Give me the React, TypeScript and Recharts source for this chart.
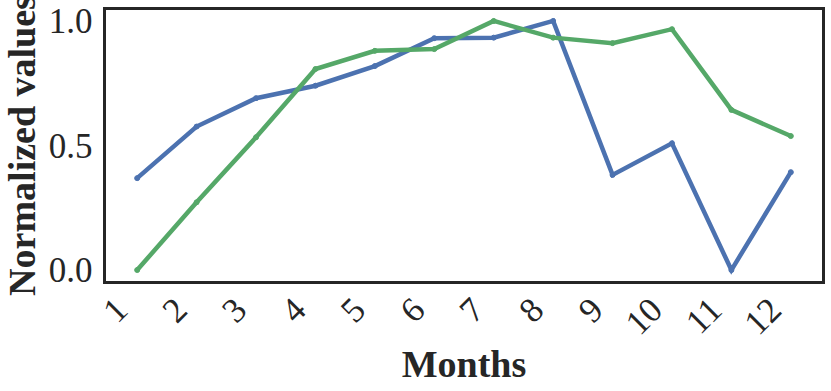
import React from "react";
import { LineChart, Line, XAxis, YAxis, ReferenceArea } from "recharts";

const months = [1, 2, 3, 4, 5, 6, 7, 8, 9, 10, 11, 12];
const seriesA = [0.369, 0.576, 0.69, 0.74, 0.819, 0.931, 0.933, 1.0, 0.382, 0.509, 0.0, 0.393];
const seriesB = [0.0, 0.272, 0.533, 0.807, 0.88, 0.887, 1.0, 0.933, 0.911, 0.967, 0.643, 0.538];
const yTicks = [0, 0.5, 1];
const yTickLabels = ["0.0", "0.5", "1.0"];

const data = months.map((m, i) => ({ month: m, a: seriesA[i], b: seriesB[i] }));

const FONT = "'Liberation Serif', 'Times New Roman', serif";
const TEXT = "#262626";
const PLOT_BOTTOM = 282.5;
const PLOT_LEFT = 104.5;

const XTick = (props: any) => {
  const { x, payload } = props;
  const ax = x - 7.5;
  const ay = PLOT_BOTTOM + 29.5;
  return (
    <text
      x={ax}
      y={ay}
      textAnchor="end"
      transform={`rotate(-45, ${ax}, ${ay})`}
      fontFamily={FONT}
      fontSize={35}
      fill={TEXT}
    >
      {payload.value}
    </text>
  );
};

const YTick = (props: any) => {
  const { y, payload } = props;
  const idx = yTicks.indexOf(payload.value);
  return (
    <text
      x={PLOT_LEFT - 12}
      y={y}
      dy="0.35em"
      textAnchor="end"
      fontFamily={FONT}
      fontSize={35}
      fill={TEXT}
    >
      {idx >= 0 ? yTickLabels[idx] : payload.value}
    </text>
  );
};

export default function App() {
  return (
    <div style={{ position: "absolute", left: 0, top: 0, width: 831, height: 391, background: "#fff" }}>
      <LineChart
        width={831}
        height={391}
        data={data}
        margin={{ top: 8.5, right: 7.5, bottom: 0, left: 0 }}
      >
        <XAxis
          dataKey="month"
          type="number"
          domain={[0.45, 12.55]}
          ticks={months}
          interval={0}
          axisLine={false}
          tickLine={false}
          height={108.5}
          tick={<XTick />}
          label={{
            content: () => (
              <text
                x={464}
                y={377}
                textAnchor="middle"
                fontFamily={FONT}
                fontWeight="bold"
                fontSize={38}
                fill={TEXT}
              >
                Months
              </text>
            ),
          }}
        />
        <YAxis
          type="number"
          domain={[-0.05, 1.05]}
          ticks={yTicks}
          interval={0}
          axisLine={false}
          tickLine={false}
          width={104.5}
          tick={<YTick />}
          label={{
            content: () => (
              <text
                x={35}
                y={145.5}
                textAnchor="middle"
                transform="rotate(-90, 35, 145.5)"
                fontFamily={FONT}
                fontWeight="bold"
                fontSize={38}
                fill={TEXT}
              >
                Normalized values
              </text>
            ),
          }}
        />
        <ReferenceArea
          x1={0.45}
          x2={12.55}
          y1={-0.05}
          y2={1.05}
          fill="none"
          stroke="#262626"
          strokeWidth={3}
          ifOverflow="visible"
        />
        <Line
          dataKey="a"
          stroke="#4C72B0"
          strokeWidth={4.5}
          dot={{ r: 2.5, fill: "#4C72B0", stroke: "#4C72B0", strokeWidth: 1 }}
          isAnimationActive={false}
        />
        <Line
          dataKey="b"
          stroke="#55A868"
          strokeWidth={4.5}
          dot={{ r: 2.5, fill: "#55A868", stroke: "#55A868", strokeWidth: 1 }}
          isAnimationActive={false}
        />
      </LineChart>
    </div>
  );
}
